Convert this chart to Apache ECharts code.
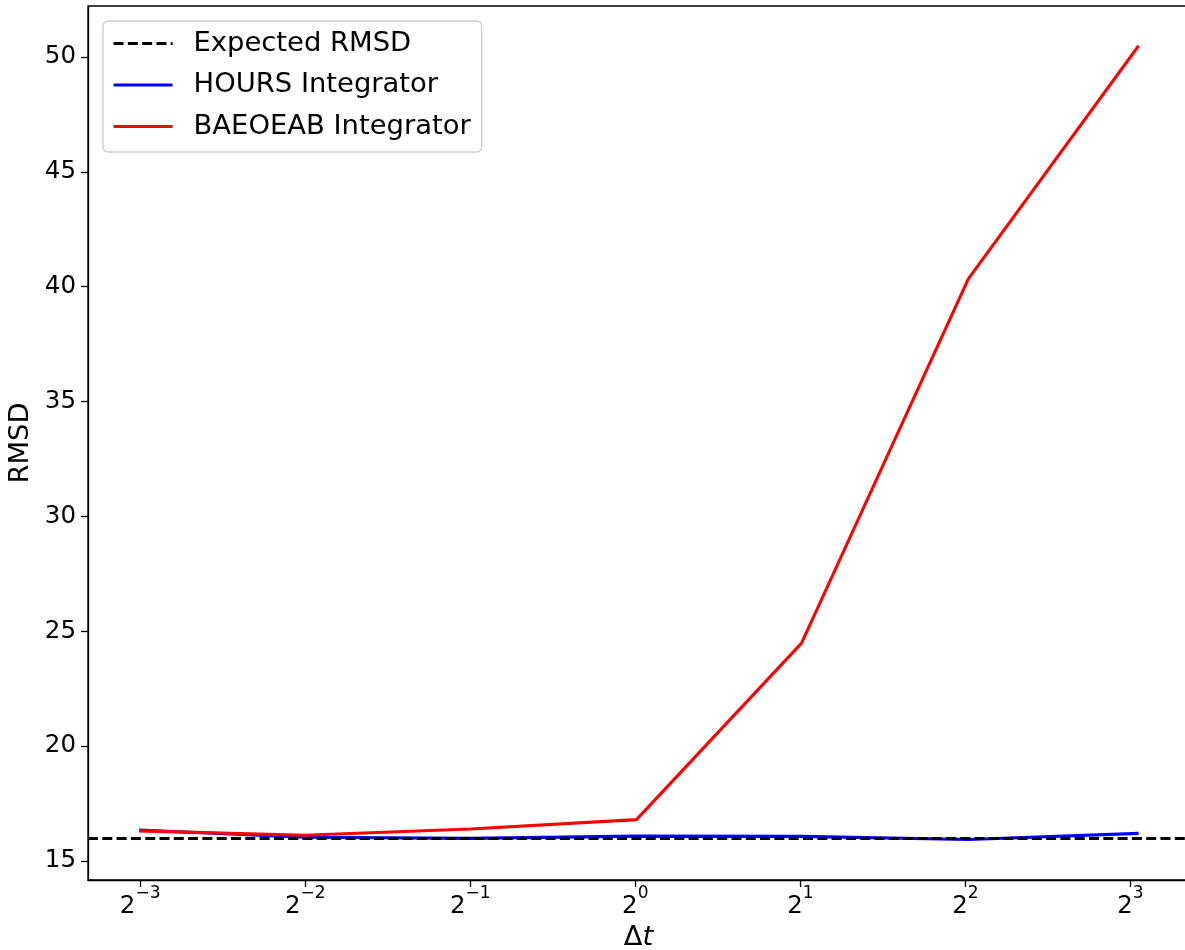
<!DOCTYPE html>
<html>
<head>
<meta charset="utf-8">
<script src="https://cdn.jsdelivr.net/npm/echarts@6/dist/echarts.min.js"></script>
<style>
    html, body { margin: 0; padding: 0; background: #fff; }
    #main { width: 1185px; height: 950px; }
</style>
</head>
<body>
<div id="main"></div>
<script>
// time step values
var dt = [0.1244, 0.2493, 0.5, 1.005, 2.01, 4.05, 8.28];
var hoursRMSD = [16.35, 16.03, 15.98, 16.08, 16.07, 15.93, 16.2];
var baeoeabRMSD = [16.31, 16.12, 16.39, 16.80, 24.48, 40.34, 50.49];
var expectedRMSD = 16.0;
// tick labels
var xTickExp = [-3, -2, -1, 0, 1, 2, 3];
var xTicks = xTickExp.map(function (e) { return Math.pow(2, e); });
var yTicks = [15, 20, 25, 30, 35, 40, 45, 50];

var pairs = function (xs, ys) {
    var out = [];
    for (var i = 0; i < xs.length; i++) {
        out.push([xs[i], ys[i]]);
    }
    return out;
};

var FONT = 'DejaVu Sans';
var LW = 3.1;
var chart = echarts.init(document.getElementById('main'));
var option = {
    backgroundColor: '#fff',
    animation: false,
    textStyle: {fontFamily: FONT, color: '#000'},
    grid: {
        left: 88, right: -4, top: 6, bottom: 70,
        outerBoundsMode: 'none',
        containLabel: false,
        show: true, borderColor: '#000', borderWidth: 1.3
    },
    legend: {
        orient: 'vertical',
        left: 103, top: 21,
        padding: [9, 11, 12, 9],
        itemWidth: 59, itemHeight: 26, itemGap: 14.5,
        backgroundColor: 'rgba(255,255,255,0.8)',
        borderColor: '#cccccc', borderWidth: 1.3, borderRadius: 5,
        itemStyle: {color: 'rgba(0,0,0,0)', borderWidth: 0, opacity: 0},
        lineStyle: {width: LW},
        textStyle: {fontFamily: FONT, fontSize: 27.4, color: '#000', padding: [0, 0, 0, 16]},
        data: ['Expected RMSD', 'HOURS Integrator', 'BAEOEAB Integrator']
    },
    xAxis: {
        type: 'log',
        logBase: 2,
        min: 0.1004,
        max: 10.23,
        name: '{a|Δ}{i|t}',
        nameLocation: 'middle',
        nameGap: 41,
        nameTextStyle: {
            rich: {
                a: {fontFamily: FONT, fontSize: 27.4, color: '#000'},
                i: {fontFamily: FONT, fontSize: 27.4, fontStyle: 'italic', color: '#000'}
            }
        },
        splitLine: {show: false},
        minorTick: {show: false},
        axisLine: {lineStyle: {color: '#000', width: 1.3}},
        axisTick: {show: true, length: 7, lineStyle: {color: '#000', width: 1.3}, customValues: xTicks},
        axisLabel: {
            customValues: xTicks,
            margin: 5,
            formatter: function (v) {
                var e = Math.round(Math.log(v) / Math.LN2);
                return '{b|2}{s|' + (e < 0 ? '\u2212' + (-e) : e) + '}';
            },
            rich: {
                b: {fontFamily: FONT, fontSize: 24.5, color: '#000', lineHeight: 34, verticalAlign: 'bottom'},
                s: {fontFamily: FONT, fontSize: 17, color: '#000', lineHeight: 20, verticalAlign: 'top'}
            }
        }
    },
    yAxis: {
        type: 'value',
        min: 14.17,
        max: 52.22,
        name: 'RMSD',
        nameLocation: 'middle',
        nameGap: 52,
        nameTextStyle: {fontFamily: FONT, fontSize: 27.4, color: '#000'},
        splitLine: {show: false},
        axisLine: {show: true, lineStyle: {color: '#000', width: 1.3}},
        axisTick: {show: true, length: 7, lineStyle: {color: '#000', width: 1.3}, customValues: yTicks},
        axisLabel: {
            customValues: yTicks,
            margin: 12,
            fontFamily: FONT, fontSize: 24.5, color: '#000'
        }
    },
    series: [
        {
            name: 'Expected RMSD',
            type: 'line',
            data: [],
            symbol: 'none',
            color: '#000',
            lineStyle: {color: '#000', width: LW, type: [10, 4.3]},
            markLine: {
                silent: true,
                symbol: 'none',
                label: {show: false},
                lineStyle: {color: '#000', width: LW, type: [10, 4.3]},
                data: [{yAxis: expectedRMSD}]
            }
        },
        {
            name: 'HOURS Integrator',
            type: 'line',
            data: pairs(dt, hoursRMSD),
            symbol: 'none',
            color: '#0000ff',
            lineStyle: {color: '#0000ff', width: LW}
        },
        {
            name: 'BAEOEAB Integrator',
            type: 'line',
            data: pairs(dt, baeoeabRMSD),
            symbol: 'none',
            color: '#ff0000',
            lineStyle: {color: '#ff0000', width: LW}
        }
    ]
};
chart.setOption(option);
</script>
</body>
</html>
